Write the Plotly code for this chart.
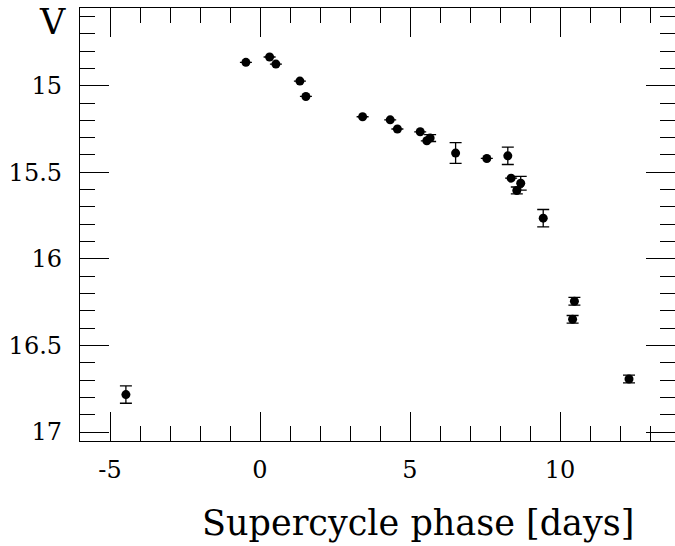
import plotly.graph_objects as go

phase = [-4.47, -0.47, 0.32, 0.53, 1.33, 1.53, 3.42, 4.34, 4.58, 5.34, 5.56, 5.67,
         6.52, 7.56, 8.26, 8.37, 8.56, 8.69, 9.44, 10.42, 10.48, 12.30]
vmag = [16.784, 14.865, 14.834, 14.875, 14.973, 15.062, 15.179, 15.197, 15.250, 15.266,
        15.318, 15.302, 15.389, 15.420, 15.405, 15.534, 15.605, 15.563, 15.765, 16.349,
        16.245, 16.694]
verr = [0.05, 0, 0, 0, 0, 0, 0, 0, 0, 0, 0, 0.02, 0.06, 0, 0.05, 0, 0.02, 0.04, 0.05,
        0.022, 0.022, 0.022]

x_tickvals = [-5, 0, 5, 10]
x_ticktext = ["-5", "0", "5", "10"]
y_tickvals = [15, 15.5, 16, 16.5, 17]
y_ticktext = ["15", "15.5", "16", "16.5", "17"]

FONT = "DejaVu Serif"

fig = go.Figure()
fig.add_trace(go.Scatter(
    x=phase, y=vmag, mode="markers",
    marker=dict(color="black", size=9, line=dict(width=0)),
    error_y=dict(type="data", array=[e if e > 0 else None for e in verr],
                 color="black", thickness=1.3, width=6, visible=True),
    showlegend=False,
))

axis_common = dict(
    showgrid=False, zeroline=False, showline=True, linecolor="black", linewidth=1.3,
    mirror="ticks", ticks="inside", tickcolor="black", tickwidth=1.3, ticklen=29,
    tickfont=dict(family=FONT, size=24, color="black"), automargin=False,
)

fig.update_xaxes(
    range=[-6, 13.833], tickmode="array", tickvals=x_tickvals, ticktext=x_ticktext,
    ticklabelstandoff=7,
    minor=dict(ticks="inside", ticklen=15, tickwidth=1.3, tickcolor="black", dtick=1, tick0=0),
    **axis_common,
)
fig.update_yaxes(
    range=[17.052, 14.551], tickmode="array", tickvals=y_tickvals, ticktext=y_ticktext,
    ticklabelstandoff=12,
    minor=dict(ticks="inside", ticklen=15, tickwidth=1.3, tickcolor="black", dtick=0.1, tick0=0),
    **axis_common,
)

fig.add_annotation(text="Supercycle phase [days]", xref="paper", yref="paper",
                   x=0.568, y=-0.19, xanchor="center", yanchor="middle",
                   showarrow=False, font=dict(family=FONT, size=35, color="black"))
fig.add_annotation(text="V", xref="paper", yref="paper",
                   x=-0.047, y=0.968, xanchor="center", yanchor="middle",
                   showarrow=False, font=dict(family=FONT, size=35, color="black"))

fig.update_layout(
    width=675, height=546,
    margin=dict(l=80, r=0, t=8, b=105, autoexpand=False),
    paper_bgcolor="white", plot_bgcolor="white",
    font=dict(family=FONT, color="black"),
)

fig.write_html("out.html", config={"displayModeBar": False},
               post_script="document.body.style.margin='0px';document.body.style.overflow='hidden';")
